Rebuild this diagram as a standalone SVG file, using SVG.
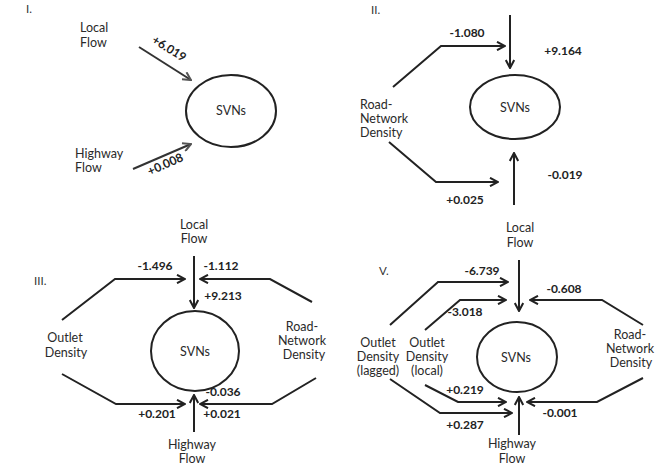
<svg xmlns="http://www.w3.org/2000/svg" width="656" height="471" viewBox="0 0 656 471">
<defs>
<marker id="ah" viewBox="0 0 10 10" refX="9" refY="5" markerWidth="10" markerHeight="10" markerUnits="userSpaceOnUse" orient="auto">
<path d="M1,0.8 L9,5 L1,9.2" fill="none" stroke="#222" stroke-width="2"/>
</marker>
<marker id="ahg" viewBox="0 0 10 10" refX="9" refY="5" markerWidth="10" markerHeight="10" markerUnits="userSpaceOnUse" orient="auto">
<path d="M1,0.8 L9,5 L1,9.2" fill="none" stroke="#555" stroke-width="2"/>
</marker>
<style>
.lbl{font-family:Lato,"Open Sans",sans-serif;font-size:12.5px;fill:#2a2a2a;text-anchor:middle}
.lft{text-anchor:start}
.num{font-family:Lato,"Open Sans",sans-serif;font-size:12px;font-weight:bold;fill:#222;text-anchor:middle}
.pn{font-family:Lato,"Open Sans",sans-serif;font-size:11.5px;fill:#333}
.el{fill:none;stroke:#222;stroke-width:2}
.ln{fill:none;stroke:#222;stroke-width:2}
.ar{fill:none;stroke:#222;stroke-width:2;marker-end:url(#ah)}
.arg{fill:none;stroke:#333;stroke-width:2;marker-end:url(#ahg)}
</style>
</defs>

<!-- Panel I -->
<g id="panel-I">
<text class="pn" x="26" y="13">I.</text>
<g id="I-local"><text class="lbl lft" x="80" y="32">Local</text><text class="lbl lft" x="80" y="47">Flow</text></g>
<g id="I-highway"><text class="lbl lft" x="75" y="158">Highway</text><text class="lbl lft" x="75" y="172">Flow</text></g>
<g id="I-svns"><ellipse class="el" cx="231" cy="111" rx="45" ry="36"/><text class="lbl" x="231" y="115">SVNs</text></g>
</g>

<!-- Panel II -->
<g id="panel-II">
<text class="pn" x="371" y="14">II.</text>
<g id="II-road"><text class="lbl lft" x="360" y="109">Road-</text><text class="lbl lft" x="360" y="123">Network</text><text class="lbl lft" x="360" y="137">Density</text></g>
<g id="II-svns"><ellipse class="el" cx="515" cy="107" rx="45" ry="32"/><text class="lbl" x="515" y="112">SVNs</text></g>
</g>

<!-- Panel III -->
<g id="panel-III">
<text class="pn" x="34" y="285">III.</text>
<g id="III-local"><text class="lbl" x="194" y="229">Local</text><text class="lbl" x="194" y="243">Flow</text></g>
<g id="III-outlet"><text class="lbl" x="65" y="342">Outlet</text><text class="lbl" x="66" y="357">Density</text></g>
<g id="III-road"><text class="lbl" x="302" y="331">Road-</text><text class="lbl" x="302" y="345">Network</text><text class="lbl" x="304" y="359">Density</text></g>
<g id="III-svns"><ellipse class="el" cx="195" cy="351" rx="44" ry="40"/><text class="lbl" x="195" y="356">SVNs</text></g>
<g id="III-highway"><text class="lbl" x="192" y="449">Highway</text><text class="lbl" x="192" y="463">Flow</text></g>
</g>

<!-- Panel V -->
<g id="panel-V">
<text class="pn" x="379" y="275">V.</text>
<g id="V-local"><text class="lbl" x="520" y="232">Local</text><text class="lbl" x="520" y="247">Flow</text></g>
<g id="V-lagged"><text class="lbl" x="378" y="347">Outlet</text><text class="lbl" x="378" y="361">Density</text><text class="lbl" x="378" y="375">(lagged)</text></g>
<g id="V-outletlocal"><text class="lbl" x="427" y="347">Outlet</text><text class="lbl" x="427" y="361">Density</text><text class="lbl" x="427" y="375">(local)</text></g>
<g id="V-road"><text class="lbl" x="630" y="339">Road-</text><text class="lbl" x="630" y="353">Network</text><text class="lbl" x="631" y="367">Density</text></g>
<g id="V-svns"><ellipse class="el" cx="517" cy="357" rx="40" ry="35"/><text class="lbl" x="516" y="362">SVNs</text></g>
<g id="V-highway"><text class="lbl" x="512" y="448">Highway</text><text class="lbl" x="512" y="463">Flow</text></g>
</g>

<!-- Connectors -->
<g id="connectors">
<!-- I -->
<line class="arg" x1="139" y1="47" x2="191" y2="80"/>
<line class="arg" x1="133" y1="169" x2="191" y2="144"/>
<!-- II -->
<line class="ar" x1="510" y1="15" x2="510" y2="68"/>
<polyline class="ar" points="393,87 441,46 505,46"/>
<polyline class="ar" points="389,142 436,182 498,182"/>
<line class="ar" x1="514" y1="205" x2="514" y2="153"/>
<!-- III -->
<line class="ar" x1="194" y1="256" x2="194" y2="308"/>
<polyline class="ar" points="62,320 115,279 185,279"/>
<polyline class="ar" points="312,302 270,279 200,279"/>
<polyline class="ar" points="62,374 116,404 185,404"/>
<polyline class="ar" points="316,378 272,404 200,404"/>
<line class="ar" x1="194" y1="432" x2="194" y2="395"/>
<!-- V -->
<line class="ar" x1="519" y1="260" x2="519" y2="311"/>
<polyline class="ar" points="390,325 438,282 508,282"/>
<polyline class="ar" points="425,330 460,300 506,300"/>
<polyline class="ar" points="643,325 602,300 530,300"/>
<polyline class="ar" points="390,379 440,413 512,413"/>
<polyline class="ar" points="425,385 458,402 506,402"/>
<polyline class="ar" points="643,378 597,402 527,402"/>
<line class="ar" x1="519" y1="435" x2="519" y2="397"/>
</g>

<!-- Connector labels -->
<g id="edge-labels">
<text class="num" transform="translate(167,52) rotate(32)">+6.019</text>
<text class="num" transform="translate(167,168) rotate(-24)">+0.008</text>
<text class="num" x="467" y="37">-1.080</text>
<text class="num" x="563" y="55">+9.164</text>
<text class="num" x="565" y="179">-0.019</text>
<text class="num" x="465" y="204">+0.025</text>
<text class="num" x="155" y="270">-1.496</text>
<text class="num" x="221" y="270">-1.112</text>
<text class="num" x="223" y="300">+9.213</text>
<text class="num" x="223" y="396">-0.036</text>
<text class="num" x="157" y="418">+0.201</text>
<text class="num" x="222" y="418">+0.021</text>
<text class="num" x="482" y="275">-6.739</text>
<text class="num" x="465" y="316">-3.018</text>
<text class="num" x="564" y="293">-0.608</text>
<text class="num" x="465" y="394">+0.219</text>
<text class="num" x="465" y="429">+0.287</text>
<text class="num" x="560" y="417">-0.001</text>
</g>
</svg>
